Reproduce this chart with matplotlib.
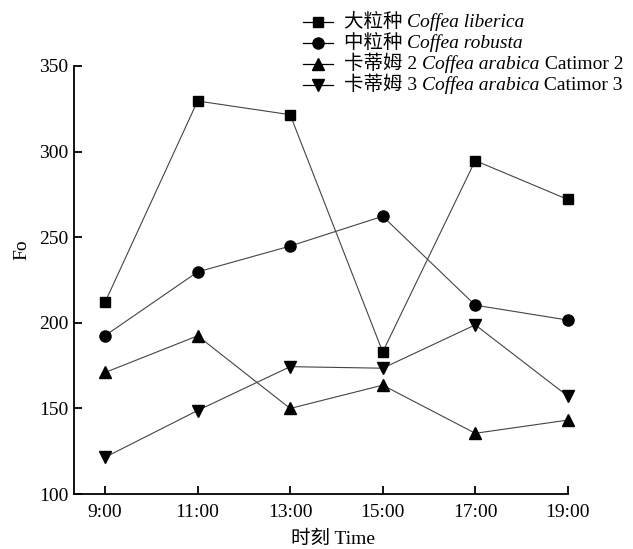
import matplotlib
matplotlib.use("Agg")
import matplotlib.pyplot as plt
from matplotlib.lines import Line2D
from matplotlib.offsetbox import TextArea, DrawingArea, HPacker, VPacker, AnchoredOffsetbox

plt.rcParams['font.family'] = ['Liberation Serif', 'Noto Sans CJK SC']

times = [9, 11, 13, 15, 17, 19]
tick_labels = ["9:00", "11:00", "13:00", "15:00", "17:00", "19:00"]

liberica = [212, 329.5, 321.5, 183, 294.7, 272]
robusta = [192.5, 229.7, 244.8, 262.2, 210.3, 201.6]
catimor2 = [171, 192.4, 150, 163.6, 135.5, 143.2]
catimor3 = [121.5, 148.8, 174.4, 173.5, 198.8, 157.2]

series = [
    (liberica, "s", "大粒种 ", "Coffea liberica", ""),
    (robusta, "o", "中粒种 ", "Coffea robusta", ""),
    (catimor2, "^", "卡蒂姆 2 ", "Coffea arabica", " Catimor 2"),
    (catimor3, "v", "卡蒂姆 3 ", "Coffea arabica", " Catimor 3"),
]
msizes = {"s": 7, "o": 8, "^": 8.5, "v": 8.5}
fs = 14

fig = plt.figure(figsize=(6.33, 5.49), dpi=100)
ax = fig.add_axes([0.117, 0.100, 0.780, 0.780])

for vals, m, *_ in series:
    ax.plot(times, vals, color="#444444", lw=0.8, marker=m, ms=msizes[m],
            mfc="black", mec="black", clip_on=False)

ax.set_ylim(100, 350)
ax.set_yticks([100, 150, 200, 250, 300, 350])
ax.set_xlim(8.33, 19.0)
ax.set_xticks(times)
ax.set_xticklabels(tick_labels)

for s in ["top", "right"]:
    ax.spines[s].set_visible(False)
for s in ["left", "bottom"]:
    ax.spines[s].set_linewidth(1.3)
ax.tick_params(direction="in", length=6, width=1.3, labelsize=fs)
ax.tick_params(axis="x", pad=7)
ax.tick_params(axis="y", pad=4)

ax.set_ylabel("Fo", fontsize=fs)
ax.set_xlabel("时刻 Time", fontsize=fs)
ax.yaxis.set_label_coords(-0.089, 0.57)
ax.xaxis.set_label_coords(0.524, -0.085)

# legend built from mixed roman / italic pieces
rows = []
for vals, m, cn, it, tail in series:
    da = DrawingArea(21.6, 10, 0, 0)
    da.add_artist(Line2D([0, 21.6], [5, 5], color="black", lw=0.9))
    da.add_artist(Line2D([10.8], [5], marker=m, ms=msizes[m], color="black"))
    parts = [TextArea(cn, textprops=dict(fontsize=fs)),
             TextArea(it, textprops=dict(fontsize=fs, style="italic"))]
    if tail:
        parts.append(TextArea(tail, textprops=dict(fontsize=fs)))
    text = HPacker(children=parts, pad=0, sep=0, align="baseline")
    rows.append(HPacker(children=[da, text], pad=0, sep=8, align="center"))
box = VPacker(children=rows, pad=0, sep=2, align="left")
anchored = AnchoredOffsetbox(loc="upper left", child=box, pad=0, frameon=False,
                             bbox_to_anchor=(303 / 633, 1 - 13 / 549),
                             bbox_transform=fig.transFigure, borderpad=0)
fig.add_artist(anchored)

fig.savefig("out.png", dpi=100)
